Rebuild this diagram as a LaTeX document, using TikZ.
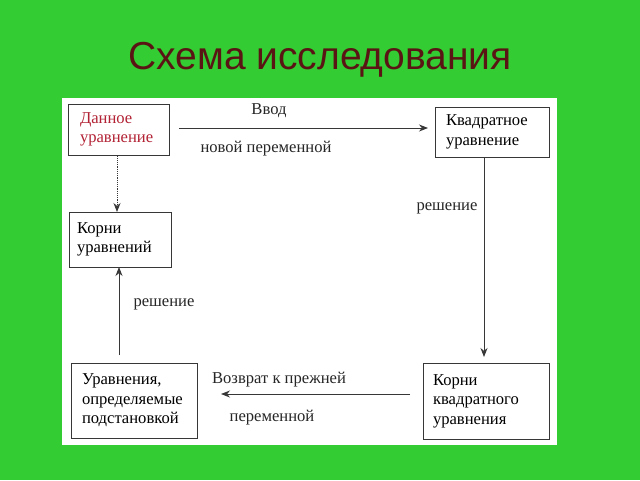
\documentclass[tikz,border=0pt]{standalone}
\usepackage{fontspec}
\setmainfont{Liberation Serif}
\newfontfamily\titlefont{Liberation Sans}
\usetikzlibrary{arrows.meta}
\definecolor{bggreen}{RGB}{51,204,51}
\definecolor{titlered}{RGB}{90,20,20}
\definecolor{boxred}{RGB}{178,34,52}
\definecolor{linegray}{RGB}{55,55,55}
\begin{document}
\begin{tikzpicture}[x=1pt,y=-1pt,
  box/.style={draw=linegray,line width=0.9pt,rectangle,align=left,
    font=\fontsize{16.6}{19.5}\selectfont,inner sep=0pt},
  lbl/.style={font=\fontsize{16.6}{19.5}\selectfont,inner sep=0pt,text=black!85,yshift=-2pt},
  arr/.style={draw=linegray,line width=0.9pt,-{Stealth[length=9pt,width=7pt]}}]
\fill[bggreen] (0,0) rectangle (640,480);
\useasboundingbox (0,0) rectangle (640,480);
\fill[white] (62,98) rectangle (557,445);
\node[font=\titlefont\fontsize{39}{44}\selectfont,text=titlered,inner sep=0pt] (title) at (320,60) {Схема исследования};

\node[box,minimum width=101pt,minimum height=51pt,text width=77pt,text=boxred] (d) at (118.5,129.5) {Данное\\уравнение};
\node[box,minimum width=102pt,minimum height=55pt,text width=86pt] (r) at (120,239.5) {Корни\\уравнений};
\node[box,minimum width=114pt,minimum height=50pt,text width=92pt] (q) at (492,132) {Квадратное\\уравнение};
\node[box,minimum width=126pt,minimum height=76pt,text width=106pt] (kq) at (486,401) {Корни\\квадратного\\уравнения};
\node[box,minimum width=126pt,minimum height=75pt,text width=104pt] (u) at (134,400.5) {Уравнения,\\определяемые\\подстановкой};

\coordinate (t1) at (179,128);
\coordinate (t2) at (428,128);
\draw[arr] (t1) -- (t2);
\node[lbl] (vvod) at (269,109) {Ввод};
\node[lbl] (novoy) at (266,147) {новой переменной};

\draw[arr,dash pattern=on 1.2pt off 1pt] (d.south -| 117,0) -- (117,212);
\coordinate (rq1) at (484,157);
\coordinate (rq2) at (484,357);
\draw[arr] (rq1) -- (rq2);
\node[lbl] (resh1) at (447,206) {решение};

\coordinate (b1) at (410,394);
\coordinate (b2) at (221,394);
\draw[arr] (b1) -- (b2);
\node[lbl] (vozvrat) at (279,378) {Возврат к прежней};
\node[lbl] (perem) at (272,416) {переменной};

\coordinate (l1) at (119,355);
\coordinate (l2) at (119,267);
\draw[arr] (l1) -- (l2);
\node[lbl] (resh2) at (164,302) {решение};
\end{tikzpicture}
\end{document}
